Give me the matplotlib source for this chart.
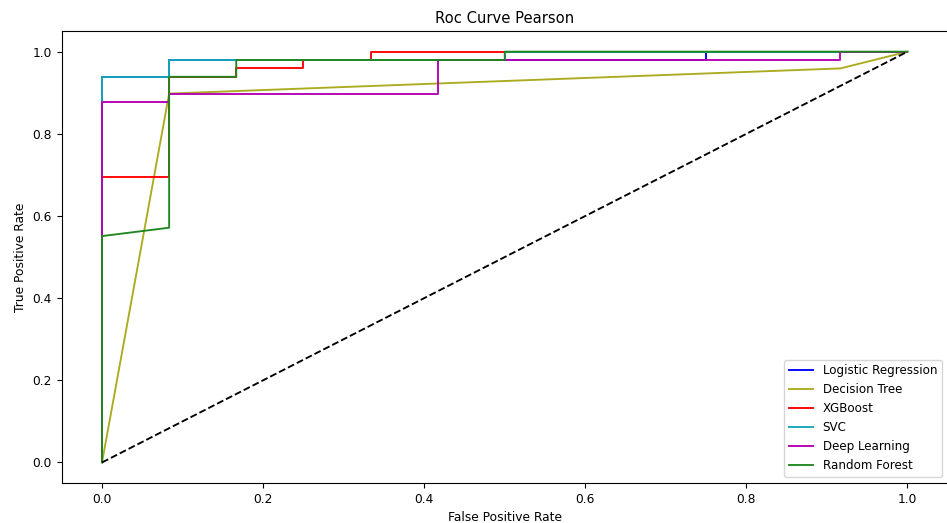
import matplotlib
matplotlib.use("Agg")
import matplotlib.pyplot as plt

# ROC points (fpr steps of 1/12, tpr steps of 1/49)
lr_fpr = [0.0, 0.0, 1 / 12, 1 / 12, 9 / 12, 9 / 12, 1.0]
lr_tpr = [0.0, 46 / 49, 46 / 49, 48 / 49, 48 / 49, 1.0, 1.0]

dt_fpr = [0.0, 1 / 12, 11 / 12, 1.0]
dt_tpr = [0.0, 44 / 49, 47 / 49, 1.0]

xgb_fpr = [0.0, 0.0, 1 / 12, 1 / 12, 2 / 12, 2 / 12, 3 / 12, 3 / 12, 4 / 12, 4 / 12, 1.0]
xgb_tpr = [0.0, 34 / 49, 34 / 49, 46 / 49, 46 / 49, 47 / 49, 47 / 49, 48 / 49, 48 / 49, 1.0, 1.0]

svc_fpr = [0.0, 0.0, 1 / 12, 1 / 12, 6 / 12, 6 / 12, 1.0]
svc_tpr = [0.0, 46 / 49, 46 / 49, 48 / 49, 48 / 49, 1.0, 1.0]

dl_fpr = [0.0, 0.0, 1 / 12, 1 / 12, 5 / 12, 5 / 12, 11 / 12, 11 / 12, 1.0]
dl_tpr = [0.0, 43 / 49, 43 / 49, 44 / 49, 44 / 49, 48 / 49, 48 / 49, 1.0, 1.0]

rf_fpr = [0.0, 0.0, 1 / 12, 1 / 12, 2 / 12, 2 / 12, 6 / 12, 6 / 12, 1.0]
rf_tpr = [0.0, 27 / 49, 28 / 49, 46 / 49, 46 / 49, 48 / 49, 48 / 49, 1.0, 1.0]

curves = [
    ("Logistic Regression", lr_fpr, lr_tpr, "#0000ff"),
    ("Decision Tree", dt_fpr, dt_tpr, "#abab1f"),
    ("XGBoost", xgb_fpr, xgb_tpr, "#ff0000"),
    ("SVC", svc_fpr, svc_tpr, "#18a8b8"),
    ("Deep Learning", dl_fpr, dl_tpr, "#b400b4"),
    ("Random Forest", rf_fpr, rf_tpr, "#1f871f"),
]


def main():
    plt.rcParams["font.size"] = 8.8
    fig = plt.figure(figsize=(9.47, 5.23), dpi=100)
    ax = fig.add_axes([0.0652, 0.0765, 0.9356, 0.864])
    for label, fpr, tpr, color in curves:
        ax.plot(fpr, tpr, color=color, label=label, linewidth=1.35)
    ax.plot([0, 1], [0, 1], "k--", linewidth=1.35)
    ax.set_xlabel("False Positive Rate")
    ax.set_ylabel("True Positive Rate")
    ax.set_title("Roc Curve Pearson", fontsize=10.6)
    ax.legend(loc="lower right", fontsize=8.6)
    fig.savefig("out.png", dpi=100)
    plt.close(fig)


if __name__ == "__main__":
    main()
